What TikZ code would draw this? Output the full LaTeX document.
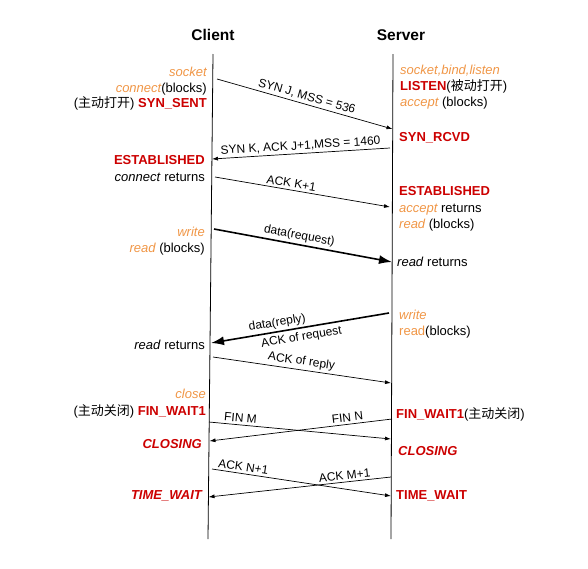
\documentclass[tikz,border=0pt]{standalone}
\usepackage{fontspec}
\setmainfont{Liberation Sans}
\newfontfamily\cjk{Noto Sans CJK SC}
\usetikzlibrary{arrows.meta}
\definecolor{callclr}{RGB}{240,150,70}
\definecolor{stateclr}{RGB}{204,0,0}
\newcommand{\call}[1]{\textcolor{callclr}{\itshape #1}}
\newcommand{\state}[1]{\textcolor{stateclr}{\bfseries #1}}

\begin{document}
\begin{tikzpicture}[x=1pt,y=-1pt,
  msg/.style={line width=0.7pt,-{Latex[length=6pt,width=4pt]}},
  bigmsg/.style={line width=1.6pt,-{Latex[length=13pt,width=9pt]}},
  cl/.style={anchor=base east,inner sep=0pt,font=\fontsize{13}{15}\selectfont},
  sv/.style={anchor=base west,inner sep=0pt,font=\fontsize{13}{15}\selectfont},
  tag/.style={sloped,inner sep=2.2pt,font=\fontsize{12}{14}\selectfont}]

\useasboundingbox (0,0) rectangle (588,568);

% Headers
\node[font=\fontsize{15.5}{18}\selectfont\bfseries] (client) at (213,35) {Client};
\node[font=\fontsize{15.5}{18}\selectfont\bfseries] (server) at (401,35) {Server};

% Time lines
\coordinate (cTop) at (213,54);
\coordinate (cBot) at (208,539);
\coordinate (sTop) at (393,54);
\coordinate (sBot) at (391,539);
\draw[line width=0.8pt] (cTop)--(cBot);
\draw[line width=0.8pt] (sTop)--(sBot);

% Client side
\node[cl] (c1) at (207,76.5) {\call{socket}};
\node[cl] (c2) at (207,92.5) {\call{connect}(blocks)};
\node[cl] (c3) at (207,107.5) {({\cjk 主动打开}) \state{SYN\_SENT}};
\node[cl] (c4) at (205,164.5) {\state{ESTABLISHED}};
\node[cl] (c5) at (205,181.5) {\textit{connect} returns};
\node[cl] (c6) at (205,236.5) {\call{write}};
\node[cl] (c7) at (205,252.5) {\call{read} (blocks)};
\node[cl] (c8) at (205,349.5) {\textit{read} returns};
\node[cl] (c9) at (206,398.5) {\call{close}};
\node[cl] (c10) at (206,415.5) {({\cjk 主动关闭}) \state{FIN\_WAIT1}};
\node[cl] (c11) at (202,448.5) {\state{\itshape CLOSING}};
\node[cl] (c12) at (202,499.5) {\state{\itshape TIME\_WAIT}};

% Server side
\node[sv] (s1) at (400,74.5) {\call{socket,bind,listen}};
\node[sv] (s2) at (400,90.5) {\state{LISTEN}({\cjk 被动打开})};
\node[sv] (s3) at (400,106.5) {\call{accept} (blocks)};
\node[sv] (s4) at (399,141.5) {\state{SYN\_RCVD}};
\node[sv] (s5) at (399,195.5) {\state{ESTABLISHED}};
\node[sv] (s6) at (399,212.5) {\call{accept} returns};
\node[sv] (s7) at (399,228.5) {\call{read} (blocks)};
\node[sv] (s8) at (397,266.5) {\textit{read} returns};
\node[sv] (s9) at (399,319.5) {\call{write}};
\node[sv] (s10) at (399,335.5) {\textcolor{callclr}{read}(blocks)};
\node[sv] (s11) at (396,418.5) {\state{FIN\_WAIT1}({\cjk 主动关闭})};
\node[sv] (s12) at (398,455.5) {\state{\itshape CLOSING}};
\node[sv] (s13) at (396,499.5) {\state{TIME\_WAIT}};

% Message end points
\coordinate (synJa) at (217,79);   \coordinate (synJb) at (392.5,129);
\coordinate (synKa) at (390,148);  \coordinate (synKb) at (212,159);
\coordinate (ackKa) at (215,177);  \coordinate (ackKb) at (390,207);
\coordinate (reqa) at (214,229);   \coordinate (reqb) at (392,262);
\coordinate (repa) at (389,313);   \coordinate (repb) at (211,343);
\coordinate (ackRa) at (213,357);  \coordinate (ackRb) at (391,383);
\coordinate (finMa) at (209,422);  \coordinate (finMb) at (391,439);
\coordinate (finNa) at (392,419);  \coordinate (finNb) at (209.5,441);
\coordinate (ackNa) at (212,469);  \coordinate (ackNb) at (391,496);
\coordinate (ackMa) at (391,477);  \coordinate (ackMb) at (208.5,497);

% Handshake
\draw[msg] (synJa)--(synJb) node[tag,midway,above] {SYN J, MSS = 536};
\draw[msg] (synKa)--(synKb) node[tag,midway,above] {SYN K, ACK J+1,MSS = 1460};
\draw[msg] (ackKa)--(ackKb) node[tag,pos=0.43,above] {ACK K+1};

% Data
\draw[bigmsg] (reqa)--(reqb) node[tag,pos=0.47,above] {data(request)};
\draw[bigmsg] (repa)--(repb) node[tag,pos=0.62,above] {data(reply)}
  node[tag,pos=0.5,below,inner sep=3pt] {ACK of request};
\draw[msg] (ackRa)--(ackRb) node[tag,pos=0.49,above] {ACK of reply};

% Simultaneous close
\draw[msg] (finMa)--(finMb) node[tag,pos=0.17,above] {FIN M};
\draw[msg] (finNa)--(finNb) node[tag,pos=0.24,above] {FIN N};
\draw[msg] (ackNa)--(ackNb) node[tag,pos=0.17,above] {ACK N+1};
\draw[msg] (ackMa)--(ackMb) node[tag,pos=0.25,above] {ACK M+1};

\end{tikzpicture}
\end{document}
